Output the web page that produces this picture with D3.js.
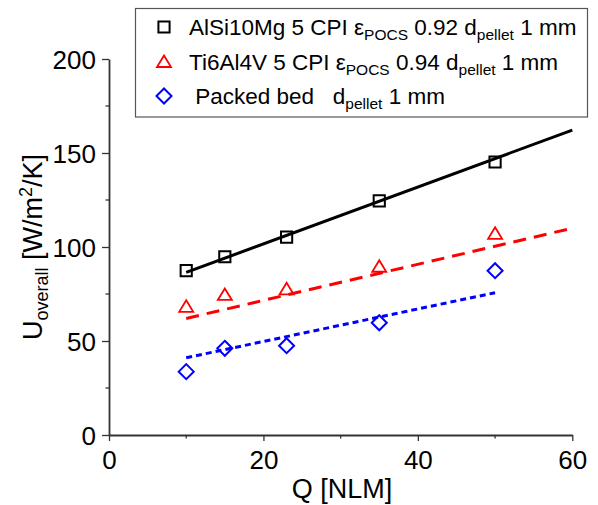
<head>
  <script src="https://d3js.org/d3.v7.min.js"></script>
</head>
<style>
  body { margin: 0; background: #fff; }
  text { font-family: "Liberation Sans", Arial, sans-serif; }
</style>
<body>
  <svg id="chart"></svg>
</body>
<script>
  var w = 598;
  var h = 505;
  var margin = {top: 59, right: 25, bottom: 70, left: 109};

  // data
  var flow = [10, 15, 23, 35, 50];
  var alsi = [87.4, 94.8, 105.3, 124.5, 145.2];
  var ti = [68.2, 74.5, 77.5, 89.5, 107];
  var packed = [33.7, 46.1, 47.5, 59.7, 87.4];

  // fitted lines (end points)
  var alsiFit = [[10, 86.5], [60, 162.2]];
  var tiFit = [[10, 62], [60, 110]];
  var packedFit = [[10, 41.1], [50, 75.7]];

  var xTicks = [0, 20, 40, 60];
  var yTicks = [0, 50, 100, 150, 200];

  var svg = d3.select("#chart").attr("width", w).attr("height", h);

  var x = d3.scaleLinear().domain([0, 60]).range([margin.left, w - margin.right - 0.7]);
  var y = d3.scaleLinear().domain([0, 200]).range([h - margin.bottom, margin.top]);

  var axisColor = "#333";

  // x axis
  var xg = svg.append("g").attr("transform", "translate(0," + y(0) + ")");
  xg.call(d3.axisBottom(x).tickValues(xTicks).tickSize(6).tickSizeOuter(0).tickPadding(8));
  svg.append("g").selectAll("line").data([10, 30, 50]).enter().append("line")
    .attr("x1", d => x(d)).attr("x2", d => x(d))
    .attr("y1", y(0)).attr("y2", y(0) + 3.5)
    .attr("stroke", axisColor).attr("stroke-width", 1.3);

  // y axis
  var yg = svg.append("g").attr("transform", "translate(" + x(0) + ",0)");
  yg.call(d3.axisLeft(y).tickValues(yTicks).tickSize(7).tickSizeOuter(0).tickPadding(6));
  svg.append("g").selectAll("line").data([25, 75, 125, 175]).enter().append("line")
    .attr("x1", x(0)).attr("x2", x(0) - 3.5)
    .attr("y1", d => y(d)).attr("y2", d => y(d))
    .attr("stroke", axisColor).attr("stroke-width", 1.3);

  [xg, yg].forEach(function(g) {
    g.select(".domain").attr("stroke", axisColor).attr("stroke-width", 1.8);
    g.selectAll(".tick line").attr("stroke", axisColor).attr("stroke-width", 1.3);
    g.selectAll(".tick text").attr("font-size", 26).attr("fill", "#000")
      .style("font-family", "'Liberation Sans', Arial, sans-serif");
  });
  xg.selectAll(".tick text").attr("dy", "0.78em");
  yg.selectAll(".tick text").attr("dy", "0.36em");

  // axis titles
  svg.append("text")
    .attr("x", 342).attr("y", 498)
    .attr("text-anchor", "middle").attr("font-size", 27)
    .text("Q [NLM]");

  var yl = svg.append("text")
    .attr("transform", "translate(42,247) rotate(-90)")
    .attr("text-anchor", "middle").attr("font-size", 27);
  yl.append("tspan").text("U");
  yl.append("tspan").attr("font-size", 18).attr("dy", 6).text("overall");
  yl.append("tspan").attr("dy", -6).text(" [W/m");
  yl.append("tspan").attr("font-size", 18).attr("dy", -10).text("2");
  yl.append("tspan").attr("dy", 10).text("/K]");

  // fit lines
  var line = d3.line().x(d => x(d[0])).y(d => y(d[1]));
  svg.append("path").datum(alsiFit).attr("d", line)
    .attr("fill", "none").attr("stroke", "#000").attr("stroke-width", 3);
  svg.append("path").datum(tiFit).attr("d", line)
    .attr("fill", "none").attr("stroke", "#ff0000").attr("stroke-width", 3)
    .attr("stroke-dasharray", "13,8");
  svg.append("path").datum(packedFit).attr("d", line)
    .attr("fill", "none").attr("stroke", "#0000ff").attr("stroke-width", 3)
    .attr("stroke-dasharray", "6,4");

  // markers
  var sq = d3.symbol().type(d3.symbolSquare).size(125);
  var tri = "M0,-6.5L7,5L-7,5Z";
  var dia = "M0,-7.5L7.5,0L0,7.5L-7.5,0Z";

  function drawPoints(vals, sym, color, sw) {
    svg.append("g").selectAll("path").data(vals).enter().append("path")
      .attr("d", sym)
      .attr("transform", (d, i) => "translate(" + x(flow[i]) + "," + y(d) + ")")
      .attr("fill", "none").attr("stroke", color).attr("stroke-width", sw);
  }
  drawPoints(alsi, sq, "#000", 2);
  drawPoints(ti, tri, "#ff0000", 1.8);
  drawPoints(packed, dia, "#0000ff", 2);

  // legend
  var lg = svg.append("g");
  lg.append("rect").attr("x", 135.5).attr("y", 8.5).attr("width", 452).attr("height", 108.5)
    .attr("fill", "#fff").attr("stroke", "#555").attr("stroke-width", 1.2);

  var legendRows = [
    {sym: sq, color: "#000", sw: 2, parts: [["AlSi10Mg 5 CPI ", 0], ["\u03b5", 0], ["POCS", 1], [" 0.92 d", 0], ["pellet", 1], [" 1 mm", 0]]},
    {sym: tri, color: "#ff0000", sw: 1.8, parts: [["Ti6Al4V 5 CPI ", 0], ["\u03b5", 0], ["POCS", 1], [" 0.94 d", 0], ["pellet", 1], [" 1 mm", 0]]},
    {sym: dia, color: "#0000ff", sw: 2, parts: [[" Packed bed   d", 0], ["pellet", 1], [" 1 mm", 0]]}
  ];
  var rowY = [27, 62, 96];
  legendRows.forEach(function(r, i) {
    lg.append("path").attr("d", r.sym)
      .attr("transform", "translate(164," + rowY[i] + ")")
      .attr("fill", "none").attr("stroke", r.color).attr("stroke-width", r.sw);
    var t = lg.append("text").attr("x", 189).attr("y", rowY[i] + 7.5)
      .attr("font-size", 22.5).style("white-space", "pre");
    var sub = false;
    r.parts.forEach(function(p) {
      var ts = t.append("tspan").text(p[0]);
      if (p[1] && !sub) { ts.attr("font-size", 15.5).attr("dy", 5); sub = true; }
      else if (!p[1] && sub) { ts.attr("dy", -5); sub = false; }
    });
  });
</script>
